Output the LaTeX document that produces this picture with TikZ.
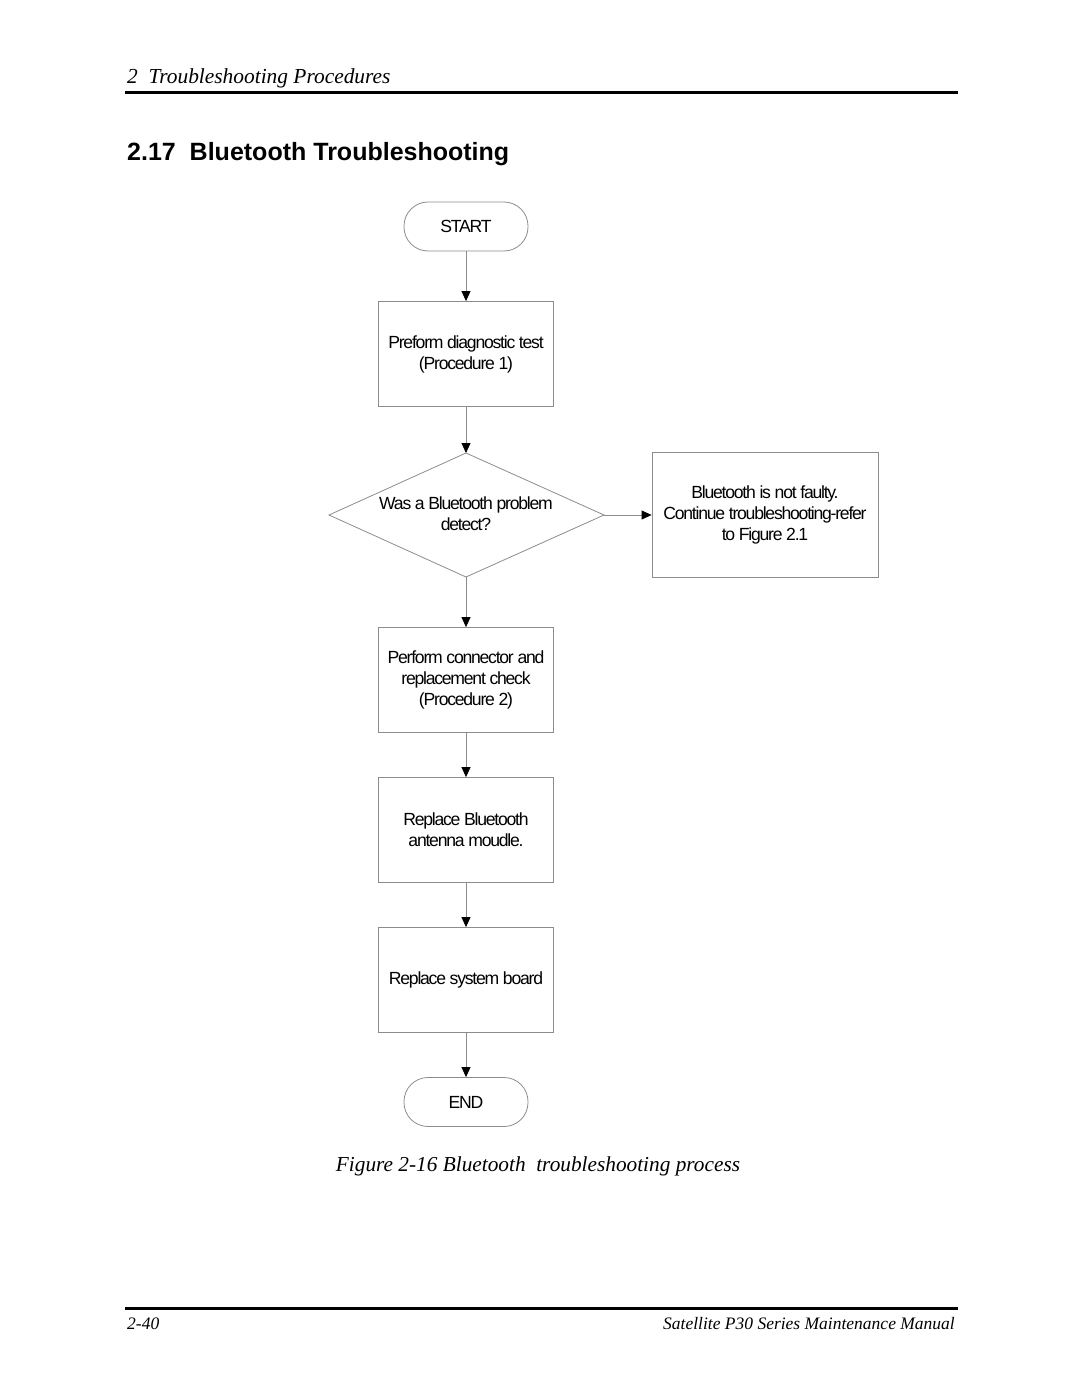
\documentclass[tikz,border=0pt]{standalone}
\usepackage{fontspec}
\setmainfont{Liberation Serif}
\newfontfamily\diagfont[LetterSpace=-7]{Liberation Sans}
\newfontfamily\titlefont{Liberation Sans}
\usetikzlibrary{arrows.meta}
\begin{document}
\begin{tikzpicture}[x=1pt,y=-1pt,
  every node/.style={inner sep=0pt},
  flowtext/.style={align=center,font=\diagfont\fontsize{17.6}{21}\selectfont},
  flow/.style={flowtext,draw=black!45,line width=0.8pt},
  procbox/.style={flow,rectangle,minimum width=175pt,minimum height=105pt},
  termbox/.style={flow,rectangle,rounded corners=24pt,minimum width=124pt,minimum height=49pt},
  outline/.style={draw=black!45,line width=0.8pt},
  conn/.style={draw=black!45,line width=0.8pt,-{Triangle[width=9pt,length=10pt,color=black,fill=black]}}
]
\useasboundingbox (0,0) rectangle (1080,1397);
% header
\node[anchor=base west,font=\itshape\fontsize{21.4}{24}\selectfont] (hdr) at (127,83) {2\ \ Troubleshooting Procedures};
\draw[line width=3pt] (125,92) -- (958,92);
\node[anchor=base west,font=\titlefont\bfseries\fontsize{25}{28}\selectfont] (ttl) at (127,160) {2.17\ \ Bluetooth Troubleshooting};
% flowchart
\node[termbox] (start) at (466,226.5) {START};
\node[procbox] (p1) at (466,354) {Preform diagnostic test\\(Procedure 1)};
\coordinate (dN) at (466,453);
\coordinate (dS) at (466,577);
\coordinate (dW) at (329,515);
\coordinate (dE) at (604,515);
\draw[outline] (dN) -- (dE) -- (dS) -- (dW) -- cycle;
\node[flowtext] (d1) at (466,514) {Was a Bluetooth problem\\detect?};
\node[procbox,minimum width=226pt,minimum height=125pt] (nf) at (765,515) {Bluetooth is not faulty.\\Continue troubleshooting-refer\\to Figure 2.1};
\node[procbox] (p2) at (466,680) {Perform connector and\\replacement check\\(Procedure 2)};
\node[procbox] (p3) at (466,830) {Replace Bluetooth\\antenna moudle.};
\node[procbox] (p4) at (466,980) {Replace system board};
\node[termbox] (end) at (466,1102) {END};
\draw[conn] (start) -- (p1);
\draw[conn] (p1) -- (dN);
\draw[conn] (dE) -- (nf.west);
\draw[conn] (dS) -- (p2);
\draw[conn] (p2) -- (p3);
\draw[conn] (p3) -- (p4);
\draw[conn] (p4) -- (end);
% caption
\node[font=\itshape\fontsize{21.3}{24}\selectfont,anchor=base] (cap) at (538,1171) {Figure 2-16 Bluetooth\ \ troubleshooting process};
% footer
\draw[line width=3pt] (125,1308) -- (958,1308);
\node[anchor=base west,font=\itshape\fontsize{17.5}{20}\selectfont] (pg) at (127,1329) {2-40};
\node[anchor=base east,font=\itshape\fontsize{17.5}{20}\selectfont] (man) at (955,1329) {Satellite P30 Series Maintenance Manual};
\end{tikzpicture}
\end{document}
